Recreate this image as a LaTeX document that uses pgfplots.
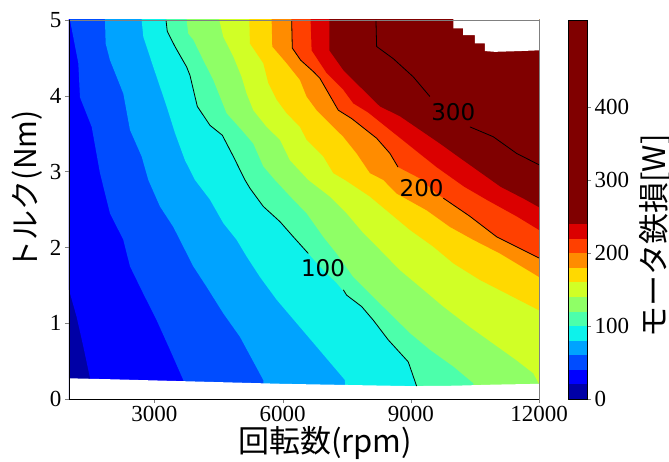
\documentclass[border=0pt]{standalone}
\usepackage{fontspec}
\setmainfont{Liberation Serif}
\newfontfamily\jp{Noto Sans CJK JP}
\newfontfamily\dv{DejaVu Sans}
\usepackage{pgfplots}
\pgfplotsset{compat=1.18}

% discrete jet colours, one per 20 W band (last one is >= 240)
\definecolor{c0}{rgb}{0,0,0.65}
\definecolor{c1}{rgb}{0,0,1}
\definecolor{c2}{rgb}{0,0.3,1}
\definecolor{c3}{rgb}{0,0.64,1}
\definecolor{c4}{rgb}{0.05,0.95,0.92}
\definecolor{c5}{rgb}{0.3,1,0.67}
\definecolor{c6}{rgb}{0.56,1,0.4}
\definecolor{c7}{rgb}{0.82,1,0.15}
\definecolor{c8}{rgb}{1,0.85,0}
\definecolor{c9}{rgb}{1,0.55,0}
\definecolor{c10}{rgb}{1,0.25,0}
\definecolor{c11}{rgb}{0.86,0,0}
\definecolor{c12}{rgb}{0.5,0,0}

\pgfplotsset{
  band/.style={fill=#1, draw=none, forget plot},
  cline/.style={black, line width=0.8pt, forget plot},
}

\begin{document}
\begin{tikzpicture}
\begin{axis}[
    at={(0pt,0pt)}, anchor=south west,
    scale only axis, width=470pt, height=379pt,
    xmin=1000, xmax=12000, ymin=0, ymax=5,
    xtick={3000,6000,9000,12000}, ytick={0,1,2,3,4,5},
    scaled x ticks=false,
    tick align=outside, tick pos=left,
    major tick length=4pt,
    axis x line*=bottom, axis y line*=left,
    axis line style={-, line width=0.8pt},
    axis on top, clip mode=individual,
    /pgf/number format/assume math mode=true,
    /pgf/number format/1000 sep={},
    tick label style={font=\fontsize{23}{23}\selectfont},
    xlabel={\jp 回転数(rpm)},
    ylabel={\jp トルク(Nm)},
    xlabel style={at={(rel axis cs:0.545,-0.116)}, anchor=center,
                  font=\fontsize{31}{31}\selectfont},
    ylabel style={at={(rel axis cs:-0.0894,0.551)}, anchor=center,
                  font=\fontsize{30}{30}\selectfont},
]
% stacked regions: each one covers everything at or above its level
\addplot[band=c0] coordinates {(900,-1)(12100,-1)(12100,6)(900,6)};
\addplot[band=c1] coordinates {(900,6)(900,1.44)(1000,1.44)(1180,1.08)(1328,0.71)(1491,0.28)(1530,-1)(12100,-1)(12100,6)};
\addplot[band=c2] coordinates {(1023,6)(1023,5.0)(1218,4.43)(1257,3.98)(1531,3.59)(1725,2.98)(1959,2.45)(2271,2.10)(2427,1.75)(2739,1.39)(3051,1.04)(3363,0.65)(3675,0.25)(3720,-1)(12100,-1)(12100,6)};
\addplot[band=c3] coordinates {(1842,6)(1842,5.0)(1858,4.69)(1959,4.47)(2271,4.03)(2427,3.55)(2700,3.20)(2856,2.89)(3129,2.54)(3441,2.27)(3675,2.01)(3909,1.75)(4221,1.48)(4611,1.13)(5001,0.82)(5547,0.25)(5600,-1)(12100,-1)(12100,6)};
\addplot[band=c4] coordinates {(2700,6)(2700,5.0)(2739,4.78)(2973,4.38)(3129,4.12)(3285,3.86)(3480,3.51)(3714,3.15)(3948,2.89)(4299,2.63)(4611,2.32)(4923,2.10)(5157,1.88)(5469,1.61)(5859,1.31)(6327,1.00)(6795,0.69)(7458,0.25)(7520,-1)(12100,-1)(12100,6)};
\addplot[band=c5] coordinates {(3270,6)(3270,5.0)(3300,4.85)(3480,4.65)(3754,4.38)(3831,4.27)(4003,3.86)(4300,3.61)(4588,3.48)(4846,3.20)(5118,2.89)(5235,2.78)(5547,2.54)(5937,2.34)(6249,2.14)(6600,1.92)(6951,1.70)(7264,1.53)(7498,1.37)(7849,1.22)(8121,1.04)(8472,0.78)(8940,0.49)(9136,0.16)(9150,-1)(12100,-1)(12100,6)};
\addplot[band=c6] coordinates {(3753,6)(3753,5.0)(3792,4.82)(3909,4.74)(4143,4.47)(4377,4.21)(4533,3.99)(4689,3.77)(5040,3.55)(5313,3.37)(5547,3.07)(5820,2.89)(6249,2.63)(6561,2.45)(6951,2.14)(7263,1.92)(7653,1.61)(8043,1.39)(8511,1.13)(8979,0.87)(9447,0.65)(9993,0.43)(10461,0.21)(10500,-1)(12100,-1)(12100,6)};
\addplot[band=c7] coordinates {(4518,6)(4518,5.0)(4611,4.78)(4845,4.52)(5040,4.25)(5157,4.03)(5313,3.81)(5625,3.59)(5937,3.42)(6171,3.15)(6600,2.89)(7107,2.67)(7497,2.45)(7887,2.19)(8277,1.97)(8745,1.70)(9213,1.48)(9759,1.22)(10383,0.95)(10929,0.73)(11475,0.51)(11865,0.34)(12000,0.20)(12100,0.20)(12100,6)};
\addplot[band=c8] coordinates {(5220,6)(5220,5.0)(5235,4.69)(5547,4.43)(5664,4.17)(5859,3.95)(6093,3.77)(6405,3.59)(6561,3.42)(6951,3.20)(7185,2.98)(7458,2.89)(8043,2.67)(8511,2.45)(8979,2.23)(9525,2.01)(9993,1.79)(10617,1.57)(11241,1.39)(12000,1.17)(12100,1.17)(12100,6)};
\addplot[band=c9] coordinates {(5743,6)(5743,5.0)(5758,4.65)(6093,4.43)(6405,4.21)(6561,3.99)(6795,3.81)(7185,3.59)(7419,3.46)(7731,3.24)(8043,2.98)(8355,2.89)(8667,2.71)(9369,2.49)(9915,2.27)(10461,2.10)(11085,1.92)(12000,1.61)(12100,1.61)(12100,6)};
\addplot[band=c10] coordinates {(6211,6)(6211,5.0)(6226,4.63)(6421,4.47)(6717,4.32)(6873,4.23)(7302,3.81)(7615,3.70)(8200,3.44)(8511,3.24)(8700,3.06)(9213,2.91)(9604,2.71)(9760,2.65)(10383,2.41)(11008,2.14)(12000,1.86)(12100,1.86)(12100,6)};
\addplot[band=c11] coordinates {(6655,6)(6655,5.0)(6678,4.60)(7029,4.30)(7419,4.08)(7653,3.90)(8000,3.78)(8400,3.60)(8800,3.42)(9200,3.24)(9600,3.06)(10250,2.80)(10800,2.62)(11475,2.41)(12000,2.23)(12100,2.23)(12100,6)};
\addplot[band=c12] coordinates {(7092,6)(7092,4.60)(7419,4.34)(7809,4.12)(8277,3.86)(8745,3.73)(9213,3.55)(9681,3.37)(10100,3.20)(10550,3.02)(11100,2.80)(11650,2.64)(12000,2.53)(12100,2.53)(12100,6)};
% no-data areas
\addplot[band=white] coordinates {(9993,6)(9993,4.89)(10227,4.89)(10227,4.80)(10500,4.80)(10500,4.69)(10734,4.69)(10734,4.59)(10968,4.58)(11553,4.59)(12000,4.60)(12100,4.60)(12100,6)};
\addplot[band=white] coordinates {(900,-1)(900,0.275)(1000,0.273)(2000,0.26)(3000,0.245)(4000,0.23)(5000,0.215)(6000,0.20)(7000,0.19)(8000,0.18)(9000,0.17)(10000,0.175)(11000,0.19)(12000,0.20)(12100,0.20)(12100,-1)};
% contour lines at 100, 200, 300 (broken where the labels sit)
\addplot[cline] coordinates {(3270,5.0)(3300,4.85)(3480,4.65)(3754,4.38)(3831,4.27)(4003,3.86)(4300,3.61)(4588,3.48)(4846,3.20)(5118,2.89)(5235,2.78)(5547,2.54)(5937,2.34)(6249,2.14)(6600,1.92)};
\addplot[cline] coordinates {(7420,1.44)(7498,1.37)(7849,1.22)(8121,1.04)(8472,0.78)(8940,0.49)(9136,0.17)};
\addplot[cline] coordinates {(6211,5.0)(6226,4.63)(6421,4.47)(6717,4.32)(6873,4.23)(7302,3.81)(7615,3.70)(8200,3.44)(8511,3.24)(8700,3.06)};
\addplot[cline] coordinates {(9760,2.65)(10383,2.41)(11008,2.14)(12000,1.86)};
\addplot[cline] coordinates {(8184,5.0)(8200,4.65)(8589,4.49)(9057,4.25)(9447,3.99)};
\addplot[cline] coordinates {(10383,3.59)(10929,3.46)(11476,3.24)(12000,3.09)};
\node[font=\dv\fontsize{23}{23}\selectfont] at (axis cs:6944,1.73) {100};
\node[font=\dv\fontsize{23}{23}\selectfont] at (axis cs:9253,2.78) {200};
\node[font=\dv\fontsize{23}{23}\selectfont] at (axis cs:9993,3.79) {300};
\draw[gray, line width=0.8pt] (rel axis cs:0,1) -- (rel axis cs:1,1) -- (rel axis cs:1,0);
\end{axis}

% colour bar
\begin{axis}[
    at={(499pt,0pt)}, anchor=south west,
    scale only axis, width=19pt, height=379pt,
    xmin=0, xmax=1, ymin=0, ymax=520,
    xtick=\empty, ytick={0,100,200,300,400},
    tick align=outside, ytick pos=right, yticklabel pos=right,
    major tick length=4pt,
    axis line style={line width=0.6pt},
    axis on top,
    /pgf/number format/assume math mode=true,
    tick label style={font=\fontsize{23}{23}\selectfont},
    ylabel={\jp モータ鉄損[W]},
    ylabel style={at={(rel axis cs:4.58,0.43)}, anchor=center,
                  font=\fontsize{31}{31}\selectfont},
]
\addplot[band=c0] coordinates {(0,0)(1,0)(1,20)(0,20)};
\addplot[band=c1] coordinates {(0,20)(1,20)(1,40)(0,40)};
\addplot[band=c2] coordinates {(0,40)(1,40)(1,60)(0,60)};
\addplot[band=c3] coordinates {(0,60)(1,60)(1,80)(0,80)};
\addplot[band=c4] coordinates {(0,80)(1,80)(1,100)(0,100)};
\addplot[band=c5] coordinates {(0,100)(1,100)(1,120)(0,120)};
\addplot[band=c6] coordinates {(0,120)(1,120)(1,140)(0,140)};
\addplot[band=c7] coordinates {(0,140)(1,140)(1,160)(0,160)};
\addplot[band=c8] coordinates {(0,160)(1,160)(1,180)(0,180)};
\addplot[band=c9] coordinates {(0,180)(1,180)(1,200)(0,200)};
\addplot[band=c10] coordinates {(0,200)(1,200)(1,220)(0,220)};
\addplot[band=c11] coordinates {(0,220)(1,220)(1,240)(0,240)};
\addplot[band=c12] coordinates {(0,240)(1,240)(1,520)(0,520)};
\end{axis}

\pgfresetboundingbox
\path[use as bounding box] (-69pt,-63pt) rectangle (600pt,399pt);
\end{tikzpicture}
\end{document}
